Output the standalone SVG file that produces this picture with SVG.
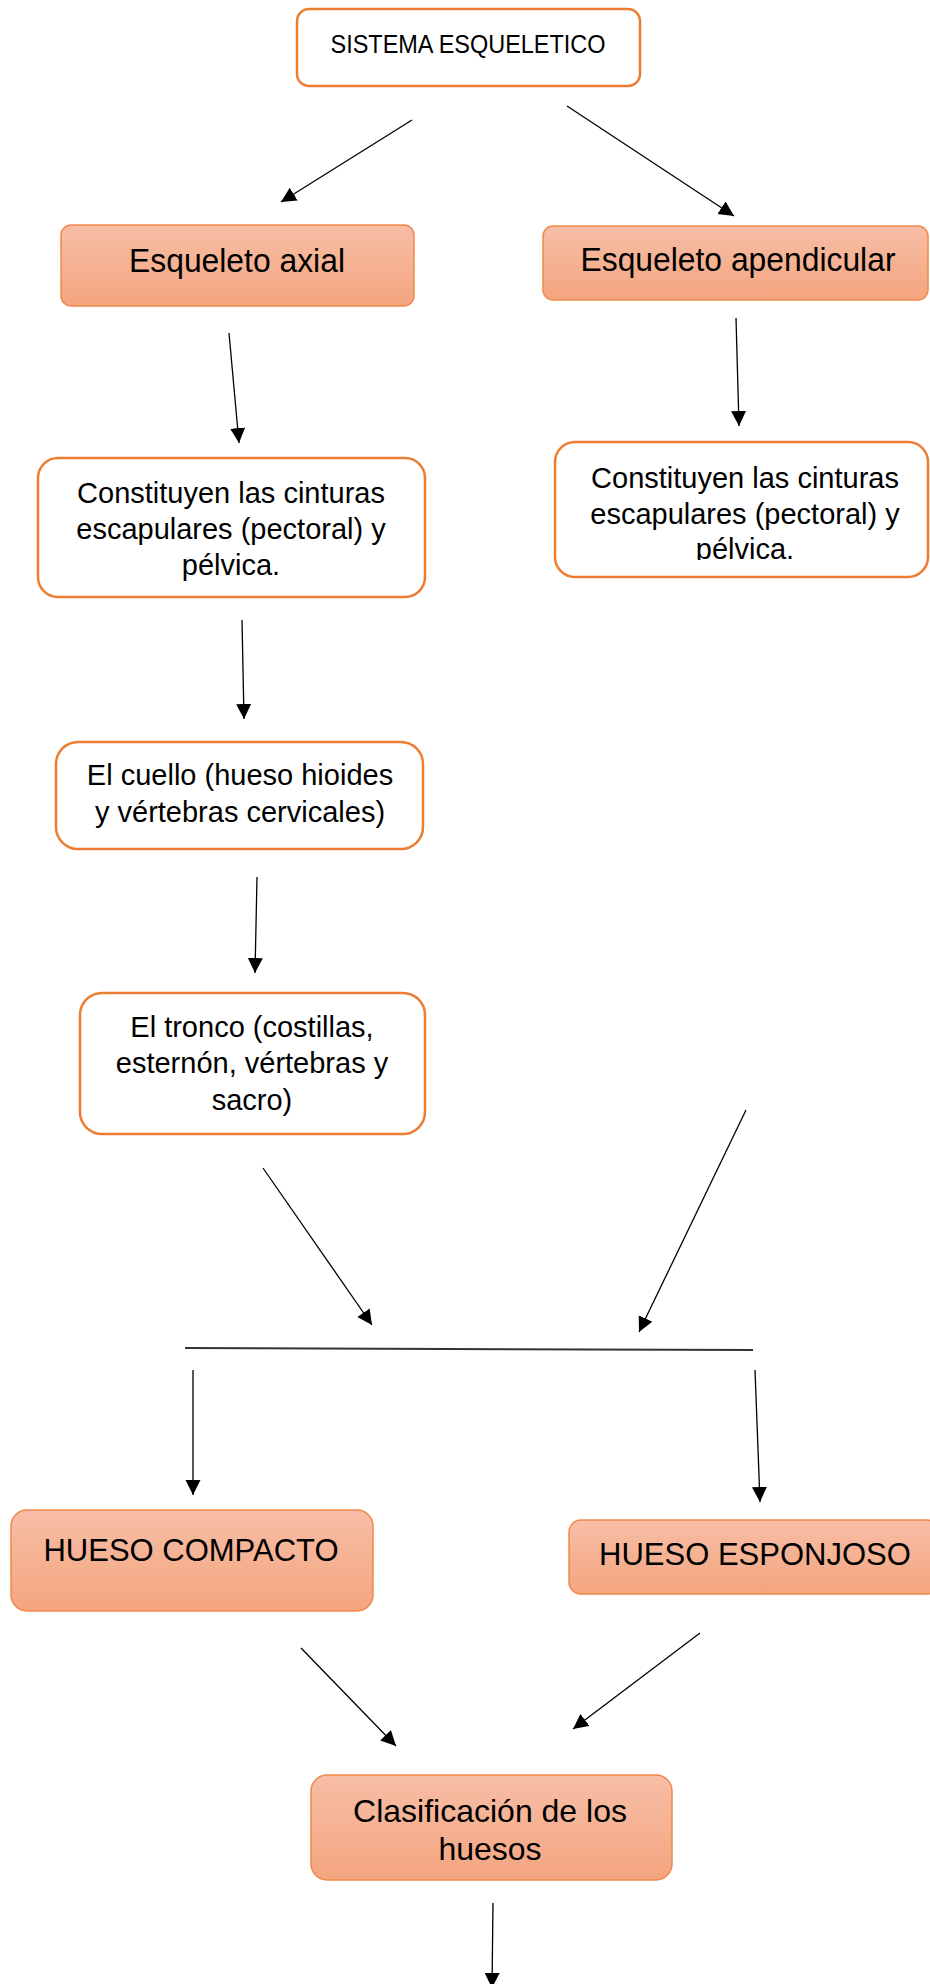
<svg xmlns="http://www.w3.org/2000/svg" width="930" height="1984" viewBox="0 0 930 1984">
<style>
.t{font-family:"Liberation Sans",Arial,sans-serif;fill:#000;text-anchor:middle}
.w{fill:#fff;stroke:#ED7D31;stroke-width:2.5}
.f{fill:url(#g);stroke:#F0894A;stroke-width:1.5}
.c{stroke:#000;stroke-width:1.3;fill:none;marker-end:url(#ah)}
</style>
<defs>
<linearGradient id="g" x1="0" y1="0" x2="0" y2="1">
<stop offset="0" stop-color="#F7BEA6"/>
<stop offset="1" stop-color="#F4A57F"/>
</linearGradient>
<marker id="ah" markerUnits="userSpaceOnUse" markerWidth="16" markerHeight="16" refX="15" refY="7.5" orient="auto">
<path d="M0,0 L15,7.5 L0,15 Z" fill="#000"/>
</marker>
<clipPath id="clipR"><rect x="555" y="442" width="373" height="118"/></clipPath>
</defs>
<g id="n-title">
<rect class="w" x="297" y="9" width="343" height="77" rx="12"/>
<text class="t" x="468" y="53" font-size="26" textLength="275" lengthAdjust="spacingAndGlyphs">SISTEMA ESQUELETICO</text>
</g>
<g id="n-axial">
<rect class="f" x="61" y="225" width="353" height="81" rx="10"/>
<text class="t" x="237" y="272" font-size="33" textLength="216" lengthAdjust="spacingAndGlyphs">Esqueleto axial</text>
</g>
<g id="n-apendicular">
<rect class="f" x="543" y="226" width="385" height="74" rx="10"/>
<text class="t" x="738" y="271" font-size="33" textLength="315" lengthAdjust="spacingAndGlyphs">Esqueleto apendicular</text>
</g>
<g id="n-cinturas-l">
<rect class="w" x="38" y="458" width="387" height="139" rx="20"/>
<text class="t" font-size="29"><tspan x="231" y="503">Constituyen las cinturas</tspan><tspan x="231" y="539">escapulares (pectoral) y</tspan><tspan x="231" y="575">pélvica.</tspan></text>
</g>
<g id="n-cinturas-r">
<rect class="w" x="555" y="442" width="373" height="135" rx="20"/>
<text class="t" font-size="29" clip-path="url(#clipR)"><tspan x="745" y="488">Constituyen las cinturas</tspan><tspan x="745" y="524">escapulares (pectoral) y</tspan><tspan x="745" y="559">pélvica.</tspan></text>
</g>
<g id="n-cuello">
<rect class="w" x="56" y="742" width="367" height="107" rx="22"/>
<text class="t" font-size="29"><tspan x="240" y="785">El cuello (hueso hioides</tspan><tspan x="240" y="822">y vértebras cervicales)</tspan></text>
</g>
<g id="n-tronco">
<rect class="w" x="80" y="993" width="345" height="141" rx="22"/>
<text class="t" font-size="29"><tspan x="252" y="1037">El tronco (costillas,</tspan><tspan x="252" y="1073">esternón, vértebras y</tspan><tspan x="252" y="1110">sacro)</tspan></text>
</g>
<g id="n-compacto">
<rect class="f" x="11" y="1510" width="362" height="101" rx="16"/>
<text class="t" x="191" y="1561" font-size="31">HUESO COMPACTO</text>
</g>
<g id="n-esponjoso">
<rect class="f" x="569" y="1520" width="370" height="74" rx="12"/>
<text class="t" x="755" y="1565" font-size="31">HUESO ESPONJOSO</text>
</g>
<g id="n-clasificacion">
<rect class="f" x="311" y="1775" width="361" height="105" rx="16"/>
<text class="t" font-size="32"><tspan x="490" y="1822">Clasificación de los</tspan><tspan x="490" y="1860">huesos</tspan></text>
</g>
<g id="connectors">
<line class="c" x1="412" y1="120" x2="281" y2="202"/>
<line class="c" x1="567" y1="106" x2="734" y2="216"/>
<line class="c" x1="229" y1="333" x2="239" y2="443"/>
<line class="c" x1="736" y1="318" x2="739" y2="426"/>
<line class="c" x1="242" y1="620" x2="244" y2="719"/>
<line class="c" x1="257" y1="877" x2="255" y2="973"/>
<line class="c" x1="263" y1="1168" x2="372" y2="1325"/>
<line class="c" x1="746" y1="1110" x2="639" y2="1332"/>
<line x1="185" y1="1348" x2="753" y2="1350" stroke="#333" stroke-width="2"/>
<line class="c" x1="193" y1="1370" x2="193" y2="1495"/>
<line class="c" x1="755" y1="1370" x2="760" y2="1502"/>
<line class="c" x1="301" y1="1648" x2="396" y2="1746"/>
<line class="c" x1="700" y1="1633" x2="573" y2="1729"/>
<line class="c" x1="493" y1="1903" x2="492" y2="1988"/>
</g>
</svg>
